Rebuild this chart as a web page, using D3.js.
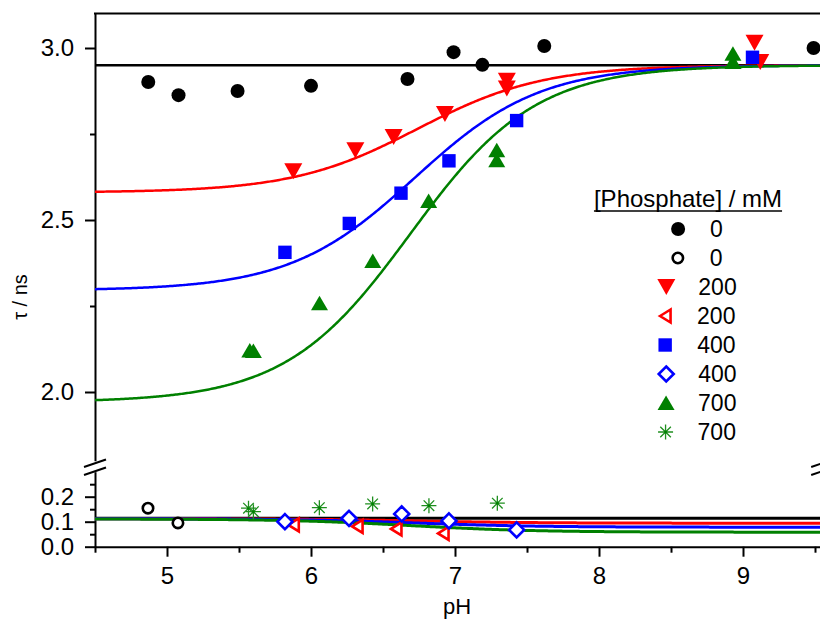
<!DOCTYPE html>
<html>
<head>
<meta charset="utf-8">
<script src="https://cdn.jsdelivr.net/npm/d3@7/dist/d3.min.js"></script>
<style>
  body { margin: 0; background: #fff; }
  svg { display: block; font-family: "Liberation Sans", Arial, sans-serif; }
</style>
</head>
<body>
<svg id="chart" width="820" height="619"></svg>
<script>
// ---- measured lifetimes (upper panel, long component) ----
const phP0 = [4.87, 5.08, 5.49, 6.00, 6.67, 6.99, 7.19, 7.62, 9.49];
const tauP0 = [2.901, 2.863, 2.875, 2.890, 2.910, 2.988, 2.951, 3.006, 3.000];

const phP200 = [5.877, 6.308, 6.574, 6.93, 7.36, 7.36, 9.08, 9.12];
const tauP200 = [2.642, 2.703, 2.741, 2.808, 2.905, 2.882, 3.015, 2.959];

const phP400 = [5.819, 6.266, 6.625, 6.958, 7.428, 9.066];
const tauP400 = [2.406, 2.490, 2.578, 2.672, 2.789, 2.973];

const phP700 = [5.575, 5.60, 6.059, 6.429, 6.817, 7.29, 7.29, 8.93, 8.93];
const tauP700 = [2.121, 2.119, 2.258, 2.381, 2.555, 2.703, 2.674, 2.983, 2.959];

// ---- lower panel values ----
const phS0 = [4.868, 5.076];
const tauS0 = [0.154, 0.095];

const phS200 = [5.877, 6.32, 6.59, 6.917];
const tauS200 = [0.087, 0.081, 0.071, 0.053];

const phS400 = [5.819, 6.264, 6.63, 6.958, 7.428];
const tauS400 = [0.100, 0.1135, 0.131, 0.103, 0.067];

const phS700 = [5.566, 5.60, 6.058, 6.428, 6.819, 7.294];
const tauS700 = [0.154, 0.140, 0.156, 0.171, 0.164, 0.174];

// ---- fit parameters (acid / base limits, pKa) ----
const fitLabels = ["200", "400", "700"];
const fitPKa = [6.74, 6.72, 6.69];
const fitUpperAcid = [2.58, 2.295, 1.97];
const fitUpperBase = [2.95, 2.95, 2.95];
const fitLowerAcid = [0.112, 0.112, 0.111];
const fitLowerBase = [0.094, 0.078, 0.058];
const fitUpperNone = 2.95;
const fitLowerNone = 0.114;

// ---- axis ticks ----
const xMajor = [5, 6, 7, 8, 9];
const xMinor = [4.5, 5.5, 6.5, 7.5, 8.5, 9.5];
const yUpperMajor = [2.0, 2.5, 3.0];
const yUpperMinor = [2.25, 2.75];
const yLowerMajor = [0.0, 0.1, 0.2];
const yLowerMinor = [0.05, 0.15, 0.25];

const legendTitle = "[Phosphate] / mM";
const legendLabels = ["0", "0", "200", "200", "400", "400", "700", "700"];

const RED = "#ff0000", BLUE = "#0000ff", GREEN = "#008000", BLACK = "#000000";

const svg = d3.select("#chart");

const x = d3.scaleLinear().domain([4.5, 9.55]).range([95, 822.2]);
const yUp = d3.scaleLinear().domain([1.8, 3.1]).range([460.8, 13.6]);
const yLo = d3.scaleLinear().domain([0, 0.3]).range([546.7, 471.7]);

// Henderson–Hasselbalch titration curve
function titration(ph, acid, base, pKa) {
  const r = Math.pow(10, ph - pKa);
  return (acid + base * r) / (1 + r);
}

// ---- marker shapes ----
const shapes = {
  dot: g => g.append("circle").attr("r", 7).attr("fill", BLACK),
  ring: g => g.append("circle").attr("r", 5.2).attr("fill", "#fff")
              .attr("stroke", BLACK).attr("stroke-width", 2.6),
  down: g => g.append("path").attr("d", "M-9,-8L9,-8L0,8Z").attr("fill", RED),
  left: g => g.append("path").attr("d", "M-5,0L5.5,-6.5L5.5,6.5Z").attr("fill", "#fff")
              .attr("stroke", RED).attr("stroke-width", 2.6).attr("stroke-linejoin", "miter"),
  square: g => g.append("rect").attr("x", -6.7).attr("y", -6.7).attr("width", 13.4)
              .attr("height", 13.4).attr("fill", BLUE),
  diamond: g => g.append("path").attr("d", "M0,-7.5L7.5,0L0,7.5L-7.5,0Z").attr("fill", "#fff")
              .attr("stroke", BLUE).attr("stroke-width", 2.6),
  up: g => g.append("path").attr("d", "M0,-7.5L8.5,7L-8.5,7Z").attr("fill", GREEN),
  star: g => {
    const r = 7.5, d = r * Math.SQRT1_2;
    g.append("path")
      .attr("d", `M0,${-r}V${r}M${-r},0H${r}M${-d},${-d}L${d},${d}M${-d},${d}L${d},${-d}`)
      .attr("stroke", "#1f8f1f").attr("stroke-width", 1.3).attr("fill", "none");
    g.append("circle").attr("r", 1.3).attr("fill", GREEN);
  }
};

function scatter(phs, taus, yScale, shape) {
  const g = svg.append("g");
  phs.forEach((p, i) => {
    const m = g.append("g").attr("transform", `translate(${x(p)},${yScale(taus[i])})`);
    shapes[shape](m);
  });
}

function curve(yScale, fn, color, width) {
  const pts = d3.range(4.5, 9.5501, 0.01).map(p => [x(p), yScale(fn(p))]);
  svg.append("path").attr("d", d3.line()(pts)).attr("fill", "none")
    .attr("stroke", color).attr("stroke-width", width).attr("stroke-linejoin", "round");
}

// ---- axes ----
const axisStyle = g => {
  g.selectAll("path.domain").attr("stroke", BLACK).attr("stroke-width", 2);
  g.selectAll(".tick line").attr("stroke", BLACK).attr("stroke-width", 2);
  g.selectAll("text").attr("font-size", 24).attr("fill", BLACK)
    .attr("font-family", "'Liberation Sans', Arial, sans-serif");
};

function leftAxis(scale, major, minor) {
  svg.append("g").attr("transform", "translate(95,0)")
    .call(d3.axisLeft(scale).tickValues(major).tickSize(10).tickSizeOuter(0)
      .tickPadding(11).tickFormat(d3.format(".1f")))
    .call(axisStyle);
  svg.append("g").attr("transform", "translate(95,0)")
    .call(d3.axisLeft(scale).tickValues(minor).tickSize(5).tickSizeOuter(0).tickFormat(""))
    .call(axisStyle).select("path.domain").remove();
}
leftAxis(yUp, yUpperMajor, yUpperMinor);
leftAxis(yLo, yLowerMajor, yLowerMinor);

const yBase = yLo(0);
svg.append("g").attr("transform", `translate(0,${yBase})`)
  .call(d3.axisBottom(x).tickValues(xMajor).tickSize(10).tickSizeOuter(0).tickPadding(10)
    .tickFormat(d3.format("d")))
  .call(axisStyle);
svg.append("g").attr("transform", `translate(0,${yBase})`)
  .call(d3.axisBottom(x).tickValues(xMinor).tickSize(6).tickSizeOuter(0).tickFormat(""))
  .call(axisStyle).select("path.domain").remove();

// frame: top edge and right edge
const [xl, xr] = x.range();
svg.append("line").attr("x1", xl - 1).attr("x2", xr).attr("y1", yUp(3.1)).attr("y2", yUp(3.1))
  .attr("stroke", BLACK).attr("stroke-width", 2);
svg.append("line").attr("x1", xr).attr("x2", xr).attr("y1", yUp(3.1)).attr("y2", yUp(1.8))
  .attr("stroke", BLACK).attr("stroke-width", 2);
svg.append("line").attr("x1", xr).attr("x2", xr).attr("y1", yLo(0.3)).attr("y2", yLo(0))
  .attr("stroke", BLACK).attr("stroke-width", 2);

// axis break marks
[xl, xr].forEach(cx => {
  [0, 8].forEach(off => {
    svg.append("line")
      .attr("x1", cx - 11).attr("y1", 467 + off)
      .attr("x2", cx + 11).attr("y2", 459.5 + off)
      .attr("stroke", BLACK).attr("stroke-width", 2);
  });
});

// ---- fitted curves ----
curve(yUp, () => fitUpperNone, BLACK, 2.5);
curve(yLo, () => fitLowerNone, BLACK, 3);
const fitColors = [RED, BLUE, GREEN];
fitColors.forEach((c, i) => {
  curve(yUp, p => titration(p, fitUpperAcid[i], fitUpperBase[i], fitPKa[i]), c, 2.5);
});
fitColors.forEach((c, i) => {
  curve(yLo, p => titration(p, fitLowerAcid[i], fitLowerBase[i], fitPKa[i]), c, 3);
});

// ---- data markers ----
scatter(phP0, tauP0, yUp, "dot");
scatter(phP200, tauP200, yUp, "down");
scatter(phP400, tauP400, yUp, "square");
scatter(phP700, tauP700, yUp, "up");

scatter(phS0, tauS0, yLo, "ring");
scatter(phS200, tauS200, yLo, "left");
scatter(phS400, tauS400, yLo, "diamond");
scatter(phS700, tauS700, yLo, "star");

// ---- axis titles ----
svg.append("text").attr("x", 457).attr("y", 614).attr("text-anchor", "middle")
  .attr("font-size", 22).text("pH");
svg.append("text").attr("transform", "translate(27,297) rotate(-90)")
  .attr("text-anchor", "middle").attr("font-size", 20).text("τ / ns");

// ---- legend ----
const legend = svg.append("g");
const title = legend.append("text").attr("x", 688).attr("y", 207)
  .attr("text-anchor", "middle").attr("font-size", 24).text(legendTitle);
const tw = title.node().getComputedTextLength();
legend.append("line").attr("x1", 688 - tw / 2).attr("x2", 688 + tw / 2)
  .attr("y1", 211).attr("y2", 211).attr("stroke", BLACK).attr("stroke-width", 1.6);

const legendShapes = ["dot", "ring", "down", "left", "square", "diamond", "up", "star"];
const halfW = { dot: 7, ring: 6.5, down: 9, left: 6.5, square: 6.7, diamond: 8.8, up: 8.5, star: 7.5 };
legendLabels.forEach((lab, i) => {
  const cy = 229 + i * 29;
  const t = legend.append("text").attr("y", cy + 8).attr("font-size", 23).text(lab);
  const w = t.node().getComputedTextLength();
  const sh = legendShapes[i];
  const total = halfW[sh] + 32 + w;
  const left = 697 - total / 2;
  const sx = left + halfW[sh];
  t.attr("x", sx + 32);
  const m = legend.append("g").attr("transform", `translate(${sx},${cy})`);
  shapes[sh](m);
});
</script>
</body>
</html>
